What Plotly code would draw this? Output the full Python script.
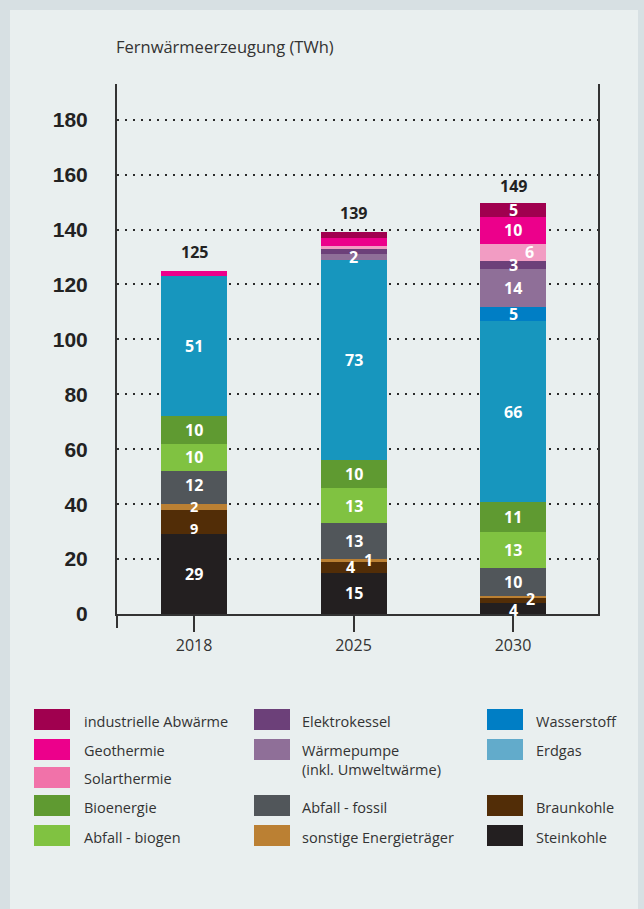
import plotly.graph_objects as go

# ---------------- data ----------------
years = ["2018", "2025", "2030"]

series_names = [
    "Steinkohle", "Braunkohle", "sonstige Energieträger", "Abfall - fossil",
    "Abfall - biogen", "Bioenergie", "Erdgas", "Wasserstoff",
    "Wärmepumpe", "Elektrokessel", "Solarthermie", "Geothermie",
    "industrielle Abwärme",
]
steinkohle = [29, 15, 4]
braunkohle = [9, 4, 2]
sonstige = [2, 1, 0.7]
abfall_fossil = [12, 13, 10]
abfall_biogen = [10, 13, 13]
bioenergie = [10, 10, 11]
erdgas = [51, 73, 66]
wasserstoff = [0, 0, 5]
waermepumpe = [0, 2, 14]
elektrokessel = [0, 2, 3]
solarthermie = [0, 1, 6]
geothermie = [2, 3, 10]
ind_abwaerme = [0, 2, 5]
totals = [125, 139, 149]

series_values = [steinkohle, braunkohle, sonstige, abfall_fossil, abfall_biogen,
                 bioenergie, erdgas, wasserstoff, waermepumpe, elektrokessel,
                 solarthermie, geothermie, ind_abwaerme]

y_ticks = [0, 20, 40, 60, 80, 100, 120, 140, 160, 180]

# segments whose value is not printed
hidden_labels = {("Geothermie", "2018"), ("sonstige Energieträger", "2030"),
                 ("industrielle Abwärme", "2025"), ("Geothermie", "2025"),
                 ("Solarthermie", "2025"), ("Elektrokessel", "2025")}
# (x, y) pixel offsets of labels for thin segments
label_shift = {("sonstige Energieträger", "2025"): (15, 0),
               ("Abfall - fossil", "2018"): (0, 3),
               ("Braunkohle", "2018"): (0, -6),
               ("sonstige Energieträger", "2018"): (0, 0),
               ("Braunkohle", "2025"): (-3, 0),
               ("Braunkohle", "2030"): (17, 1),
               ("Steinkohle", "2030"): (0, -1),
               ("Solarthermie", "2030"): (16, 0)}
# labels drawn a little smaller to fit tight segments
small_labels = {("Braunkohle", "2018"), ("sonstige Energieträger", "2018")}

bar_colors = {
    "Steinkohle": "#231f20", "Braunkohle": "#522d07",
    "sonstige Energieträger": "#bb8033", "Abfall - fossil": "#51565a",
    "Abfall - biogen": "#80c241", "Bioenergie": "#5f9a31",
    "Erdgas": "#1796be", "Wasserstoff": "#007ec5",
    "Wärmepumpe": "#8f6f98", "Elektrokessel": "#6c4079",
    "Solarthermie": "#f29cc3", "Geothermie": "#ec008b",
    "industrielle Abwärme": "#a0004f",
}
legend_colors = dict(bar_colors)
legend_colors["Erdgas"] = "#62abcb"
legend_colors["Solarthermie"] = "#f172a9"

# ---------------- figure ----------------
W, H = 644, 909
L, R, T, B = 117, 598, 84, 614
PW, PH = R - L, B - T


def px(x):
    return (x - L) / PW


def py(y):
    return (B - y) / PH


FONT = "Open Sans"
fig = go.Figure()

for name, vals in zip(series_names, series_values):
    fig.add_trace(go.Bar(
        x=years, y=vals, name=name, width=0.414,
        marker=dict(color=bar_colors[name], line=dict(width=0)),
        showlegend=False, hoverinfo="x+y+name",
    ))

annotations = []
base = [0.0] * len(years)
for name, vals in zip(series_names, series_values):
    for i, yr in enumerate(years):
        v = vals[i]
        if v > 0 and (name, yr) not in hidden_labels:
            dx, dy = label_shift.get((name, yr), (0, 0))
            size = 14.5 if (name, yr) in small_labels else 16
            annotations.append(dict(
                x=i, y=base[i] + v / 2, xref="x", yref="y",
                text=f"<b>{v:g}</b>", showarrow=False,
                xshift=dx, yshift=dy, borderpad=0,
                font=dict(family=FONT, size=size, color="white"),
            ))
        base[i] += v

for i, tot in enumerate(totals):
    annotations.append(dict(
        x=i, y=tot, xref="x", yref="y", text=f"<b>{tot}</b>",
        showarrow=False, yanchor="bottom", yshift=6,
        font=dict(family=FONT, size=16, color="#222222"),
    ))

annotations.append(dict(
    x=px(114), y=py(47), xref="paper", yref="paper", xanchor="left",
    yanchor="middle", text="Fernwärmeerzeugung (TWh)", showarrow=False,
    font=dict(family=FONT, size=16.5, color="#333333"),
))

shapes = [
    dict(type="rect", xref="paper", yref="paper", x0=px(10), x1=px(638),
         y0=py(920), y1=py(10), fillcolor="#e9efef", line=dict(width=0),
         layer="below"),
    dict(type="line", xref="paper", yref="paper", x0=0, x1=0, y0=0,
         y1=py(628), line=dict(color="#333333", width=2)),
]

# custom legend
legend_layout = [
    # (name, label, swatch x0, swatch top, text x, text y)
    ("industrielle Abwärme", "industrielle Abwärme", 34, 709, 82, 720),
    ("Geothermie", "Geothermie", 34, 739, 82, 749),
    ("Solarthermie", "Solarthermie", 34, 767, 82, 777),
    ("Bioenergie", "Bioenergie", 34, 795, 82, 806),
    ("Abfall - biogen", "Abfall - biogen", 34, 825, 82, 836),
    ("Elektrokessel", "Elektrokessel", 254, 709, 300, 720),
    ("Wärmepumpe", "Wärmepumpe<br>(inkl. Umweltwärme)", 254, 739, 300, 749),
    ("Abfall - fossil", "Abfall - fossil", 254, 795, 300, 806),
    ("sonstige Energieträger", "sonstige Energieträger", 254, 825, 300, 836),
    ("Wasserstoff", "Wasserstoff", 487, 709, 534, 720),
    ("Erdgas", "Erdgas", 487, 739, 534, 749),
    ("Braunkohle", "Braunkohle", 487, 795, 534, 806),
    ("Steinkohle", "Steinkohle", 487, 825, 534, 836),
]
for name, label, sx, sy, tx, ty in legend_layout:
    shapes.append(dict(type="rect", xref="paper", yref="paper",
                       x0=px(sx), x1=px(sx + 36), y0=py(sy + 21), y1=py(sy),
                       fillcolor=legend_colors[name], line=dict(width=0)))
    annotations.append(dict(
        x=px(tx), y=py(ty - 10), xref="paper", yref="paper",
        xanchor="left", yanchor="top", align="left", text=label,
        showarrow=False,
        font=dict(family=FONT, size=14.5, color="#333333"),
    ))

fig.update_layout(
    width=W, height=H,
    margin=dict(l=L, r=W - R, t=T, b=H - B, pad=0),
    paper_bgcolor="#d7e0e3", plot_bgcolor="#e9efef",
    barmode="stack", bargap=0.586,
    showlegend=False,
    annotations=annotations, shapes=shapes,
    xaxis=dict(
        type="category", range=[-0.483, 2.533],
        showline=True, linecolor="#333333", linewidth=2,
        ticks="outside", ticklen=16, tickwidth=2, tickcolor="#333333",
        tickfont=dict(family=FONT, size=16, color="#333333"),
        showgrid=False, zeroline=False, fixedrange=True,
    ),
    yaxis=dict(
        range=[0, 193], tickvals=y_ticks,
        showline=True, mirror=True, linecolor="#333333", linewidth=2,
        ticks="", ticklabelstandoff=23,
        tickfont=dict(family="Liberation Sans", size=21, color="#222222",
                      weight="bold"),
        showgrid=True, gridcolor="#2a2a2a", gridwidth=2,
        griddash="2px,6px", zeroline=False, fixedrange=True,
    ),
)

fig.write_html("out.html", config={"displayModeBar": False},
               post_script="document.body.style.margin='0px';")
